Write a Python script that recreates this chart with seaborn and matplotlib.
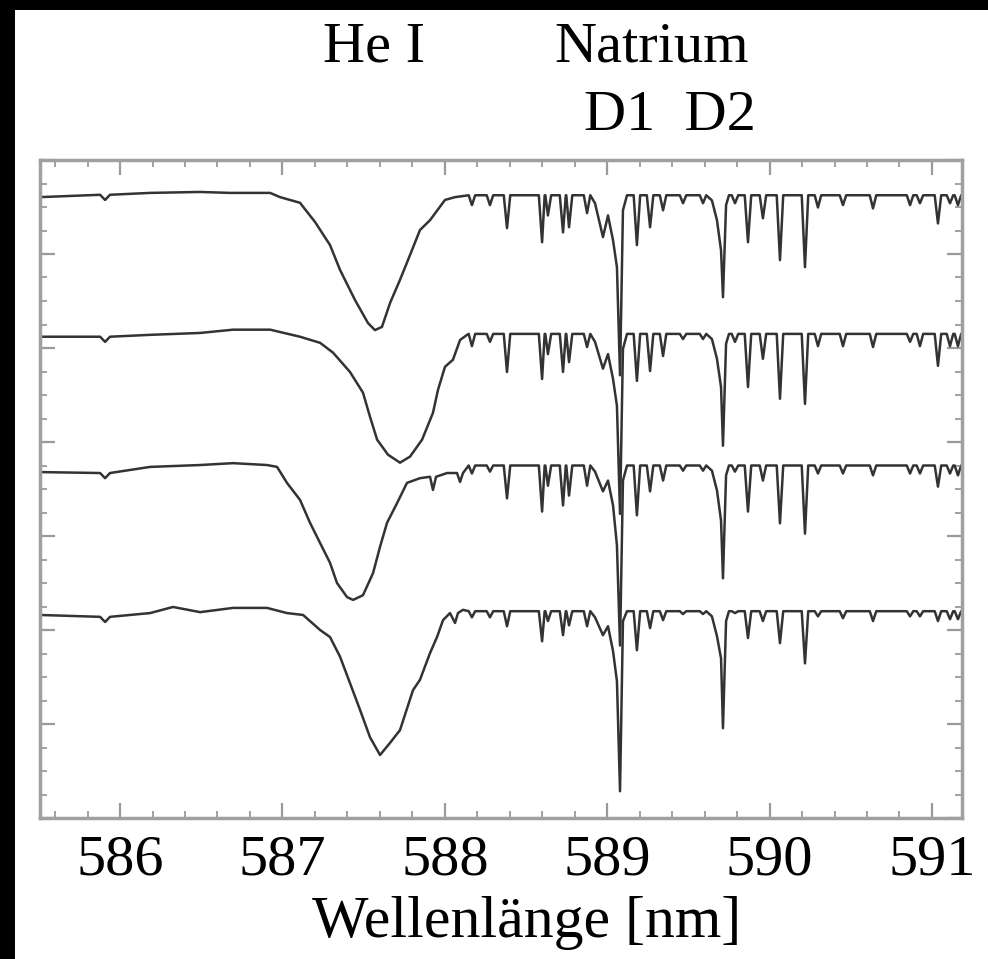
import matplotlib
matplotlib.use("Agg")
import matplotlib.pyplot as plt
import numpy as np
import pandas as pd
import seaborn as sns
from matplotlib.ticker import MultipleLocator, NullFormatter
from matplotlib.patches import Rectangle

# ---------------- data ----------------
spectra = ["S1", "S2", "S3", "S4"]
offsets = [0.325, 0.03, -0.25, -0.56]          # vertical shift of each spectrum

# broad He I 587.6 nm profile + left continuum (wavelength nm, normalised flux)
he_nm_s1 = [585.507, 585.877, 585.908, 585.938, 586.185, 586.493, 586.677, 586.924, 586.985,
            587.108, 587.201, 587.293, 587.355, 587.447, 587.527, 587.570, 587.613, 587.663,
            587.724, 587.786, 587.847, 587.909, 588.001, 588.063, 588.106]
he_flux_s1 = [0.996, 1.001, 0.990, 1.001, 1.005, 1.007, 1.005, 1.005, 0.996, 0.984, 0.943, 0.894,
              0.841, 0.777, 0.728, 0.713, 0.720, 0.771, 0.820, 0.873, 0.926, 0.947, 0.990, 0.996, 0.998]

he_nm_s2 = [585.507, 585.877, 585.908, 585.938, 586.185, 586.493, 586.696, 586.924, 587.108,
            587.232, 587.312, 587.416, 587.496, 587.539, 587.583, 587.650, 587.724, 587.786,
            587.860, 587.927, 587.958, 588.001, 588.050, 588.094, 588.137]
he_flux_s2 = [0.994, 0.994, 0.983, 0.994, 0.998, 1.002, 1.009, 1.009, 0.994, 0.981, 0.960, 0.919,
              0.875, 0.824, 0.775, 0.743, 0.726, 0.739, 0.775, 0.832, 0.881, 0.930, 0.945, 0.987, 0.998]

he_nm_s3 = [585.507, 585.877, 585.908, 585.938, 586.185, 586.493, 586.696, 586.905, 586.967,
            587.028, 587.108, 587.170, 587.232, 587.293, 587.336, 587.398, 587.435, 587.496,
            587.558, 587.601, 587.644, 587.706, 587.767, 587.847, 587.909, 587.927, 587.946,
            588.014, 588.075, 588.094, 588.112]
he_flux_s3 = [0.986, 0.984, 0.973, 0.984, 0.997, 1.001, 1.005, 1.001, 0.997, 0.963, 0.927, 0.878,
              0.835, 0.793, 0.750, 0.720, 0.714, 0.724, 0.771, 0.827, 0.878, 0.920, 0.963, 0.973,
              0.976, 0.948, 0.976, 0.984, 0.984, 0.965, 0.984]

he_nm_s4 = [585.507, 585.877, 585.908, 585.938, 586.185, 586.326, 586.493, 586.696, 586.905,
            587.028, 587.127, 587.232, 587.293, 587.355, 587.416, 587.478, 587.539, 587.601,
            587.663, 587.724, 587.804, 587.847, 587.909, 587.952, 587.989, 588.032, 588.063,
            588.081, 588.112]
he_flux_s4 = [0.992, 0.988, 0.977, 0.988, 0.996, 1.009, 0.998, 1.007, 1.007, 0.996, 0.992, 0.960,
              0.945, 0.903, 0.847, 0.790, 0.732, 0.694, 0.720, 0.747, 0.832, 0.854, 0.911, 0.945,
              0.981, 0.996, 0.975, 0.996, 1.003]

# narrow (telluric / metal) absorption lines: centre (nm) and depth per spectrum
line_nm = [588.167, 588.278, 588.383, 588.599, 588.635, 588.728, 588.765, 588.876, 589.183,
           589.264, 589.344, 589.467, 589.590, 589.787, 589.867, 589.959, 590.064, 590.218,
           590.298, 590.452, 590.637, 590.865, 590.926, 591.037, 591.111, 591.160]
depth_s1 = [.021, .021, .070, .100, .043, .079, .068, .038, .106, .068, .032, .017, .017,
            .017, .100, .049, .138, .153, .026, .021, .028, .021, .017, .060, .017, .021]
depth_s2 = [.026, .017, .081, .096, .043, .081, .060, .028, .100, .079, .047, .011, .011,
            .017, .113, .053, .138, .149, .026, .026, .028, .017, .026, .068, .026, .026]
depth_s3 = [.017, .013, .070, .098, .043, .085, .064, .043, .106, .055, .032, .011, .011,
            .013, .098, .032, .123, .145, .017, .017, .021, .017, .017, .045, .017, .021]
depth_s4 = [.013, .013, .032, .064, .021, .051, .030, .032, .083, .036, .019, .006, .006,
            .004, .057, .021, .068, .111, .011, .015, .021, .011, .011, .021, .017, .017]

# sodium D lines: profile points (nm) and depth per spectrum
na_a_nm = [588.925, 588.974, 589.005, 589.036, 589.060, 589.079, 589.097, 589.122]
na_a_s1 = [.017, .089, .043, .096, .153, .383, .032, 0.0]
na_a_s2 = [.017, .074, .043, .096, .153, .383, .032, 0.0]
na_a_s3 = [.013, .055, .032, .085, .170, .383, .032, 0.0]
na_a_s4 = [.013, .051, .032, .085, .149, .383, .021, 0.0]

na_b_nm = [589.645, 589.676, 589.701, 589.713, 589.732, 589.750]
na_b_s1 = [.011, .053, .117, .217, .021, 0.0]
na_b_s2 = [.011, .053, .113, .238, .021, 0.0]
na_b_s3 = [.011, .053, .117, .240, .021, 0.0]
na_b_s4 = [.011, .053, .100, .249, .021, 0.0]

x_ticks = [586, 587, 588, 589, 590, 591]
x_label = "Wellenlänge [nm]"
top_labels = ["He I", "Natrium", "D1  D2"]

# ---------------- assemble long table ----------------
he_nm = [he_nm_s1, he_nm_s2, he_nm_s3, he_nm_s4]
he_flux = [he_flux_s1, he_flux_s2, he_flux_s3, he_flux_s4]
depths = [depth_s1, depth_s2, depth_s3, depth_s4]
na_a = [na_a_s1, na_a_s2, na_a_s3, na_a_s4]
na_b = [na_b_s1, na_b_s2, na_b_s3, na_b_s4]
HW = 0.02  # half width of narrow line drawing (nm)

frames = []
for k, name in enumerate(spectra):
    pts = list(zip(he_nm[k], he_flux[k]))
    for c, d in zip(line_nm, depths[k]):
        pts += [(c - HW, 1.0), (c, 1.0 - d), (c + HW, 1.0)]
    pts += [(w, 1.0 - d) for w, d in zip(na_a_nm, na_a[k])]
    pts += [(w, 1.0 - d) for w, d in zip(na_b_nm, na_b[k])]
    pts.sort()
    arr = np.array(pts)
    frames.append(pd.DataFrame({"spectrum": name, "nm": arr[:, 0],
                                "intensity": arr[:, 1] + offsets[k]}))
df = pd.concat(frames, ignore_index=True)

# ---------------- plot ----------------
sns.set_theme(style="white")
plt.rcParams["font.family"] = ["Liberation Serif", "DejaVu Serif"]

W, H = 988, 959
fig = plt.figure(figsize=(W / 100, H / 100), dpi=100, facecolor="black")
bg = Rectangle((15 / W, 0), 1 - 15 / W, 1 - 10 / H, transform=fig.transFigure,
               facecolor="white", edgecolor="none", zorder=-10)
fig.patches.append(bg)

ax = fig.add_axes([40 / W, 141 / H, 922 / W, 658 / H])
ax.set_zorder(5)
ax.set_facecolor("white")
sns.lineplot(data=df, x="nm", y="intensity", hue="spectrum", palette=["#333333"] * 4,
             sort=False, estimator=None, legend=False, linewidth=1.8, ax=ax)

ax.set_xlim(585.507, 591.185)
ax.set_ylim(0, 1.4)
ax.set_xticks(x_ticks)
ax.set_xticklabels([str(t) for t in x_ticks])
ax.xaxis.set_minor_locator(MultipleLocator(0.2))
ax.yaxis.set_major_locator(MultipleLocator(0.2))
ax.yaxis.set_minor_locator(MultipleLocator(0.05))
ax.yaxis.set_major_formatter(NullFormatter())
ax.tick_params(which="both", direction="in", top=True, right=True, bottom=True, left=True,
               color="#9a9a9a")
ax.tick_params(which="major", length=11, width=1.6, labelsize=42, pad=12, labelcolor="black")
ax.tick_params(which="minor", length=5, width=1.3)
for s in ax.spines.values():
    s.set_color("#a0a0a0")
    s.set_linewidth(2.5)

ax.set_ylabel("")
ax.set_xlabel(x_label, fontsize=43, color="black")
ax.xaxis.label.set_va("baseline")
ax.xaxis.set_label_coords((527 - 40) / 922, -(937 - 818) / 658)

for txt, (px, py) in zip(top_labels, [(374, 62), (652, 62), (670, 130)]):
    fig.text(px / W, 1 - py / H, txt, ha="center", va="baseline", fontsize=42,
             color="black", zorder=6)

fig.savefig("out.png", dpi=100, facecolor=fig.get_facecolor())
